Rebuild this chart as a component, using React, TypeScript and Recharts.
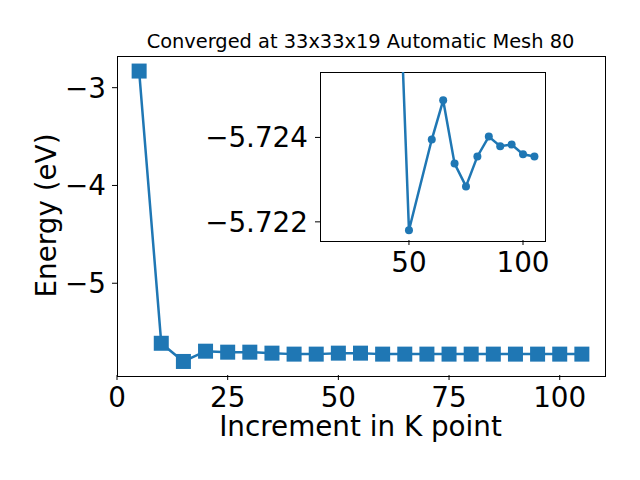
import React from 'react';
import { LineChart, Line, XAxis, YAxis } from 'recharts';

const kPoints = [5, 10, 15, 20, 25, 30, 35, 40, 45, 50, 55, 60, 65, 70, 75, 80, 85, 90, 95, 100, 105];
const energies = [
  -2.83, -5.614, -5.8, -5.695, -5.705, -5.705, -5.715, -5.725, -5.725, -5.715, -5.715,
  -5.725, -5.725, -5.725, -5.725, -5.725, -5.725, -5.725, -5.725, -5.725, -5.725
];

const insetKPoints = [45, 50, 60, 65, 70, 75, 80, 85, 90, 95, 100, 105];
const insetEnergies = [
  -5.729, -5.7218, -5.72395, -5.72488, -5.72338, -5.72284, -5.72355, -5.72402, -5.72379, -5.72383, -5.7236,
  -5.72355
];

const mainXTicks = [0, 25, 50, 75, 100];
const mainYTicks = [-5, -4, -3];
const insetXTicks = [50, 100];
const insetYTicks = [-5.724, -5.722];

const titleText = 'Converged at 33x33x19 Automatic Mesh 80';
const xLabel = 'Increment in K point';
const yLabel = 'Energy (eV)';

const BLUE = '#1f77b4';
const FONT = 'DejaVu Sans';
const BIG = 27.8;

const mainData = kPoints.map((k, i) => ({ k, e: energies[i] }));
const insetData = insetKPoints.map((k, i) => ({ k, e: insetEnergies[i] }));

const minus = (s: string) => s.replace('-', '\u2212');

const renderSquare = (props: any) => {
  const { cx, cy, index } = props;
  return <rect key={`sq-${index}`} x={cx - 7.5} y={cy - 7.5} width={15} height={15} fill={BLUE} />;
};

const tickStyle = { fill: '#000', fontSize: BIG, fontFamily: FONT };

// main plot area: x 117..604, y 56..375
const MAIN = { left: 117, top: 56, width: 487, height: 319 };
// inset plot area: x 320..544, y 72..240
const INSET = { left: 320, top: 72, width: 224, height: 168 };

export default function App() {
  return (
    <div style={{ position: 'absolute', left: 0, top: 0, width: 640, height: 480, background: '#fff' }}>
      <div style={{ position: 'absolute', left: 0, top: 0 }}>
        <LineChart
          width={640}
          height={480}
          data={mainData}
          margin={{ top: MAIN.top, right: 640 - MAIN.left - MAIN.width, left: 0, bottom: 0 }}
        >
          <XAxis
            dataKey="k"
            type="number"
            domain={[0, 110]}
            ticks={mainXTicks}
            height={480 - MAIN.top - MAIN.height}
            tick={tickStyle}
            tickSize={5}
            tickMargin={7}
            stroke="#000"
            axisLine={false}
          />
          <YAxis
            dataKey="e"
            type="number"
            domain={[-5.9385, -2.676]}
            ticks={mainYTicks}
            width={MAIN.left}
            tick={tickStyle}
            tickSize={5}
            tickMargin={6}
            tickFormatter={(v: number) => minus(String(v))}
            stroke="#000"
            axisLine={false}
          />
          <Line
            dataKey="e"
            stroke={BLUE}
            strokeWidth={2.5}
            dot={renderSquare}
            activeDot={false}
            isAnimationActive={false}
          />
        </LineChart>
      </div>
      <div
        style={{
          position: 'absolute',
          left: MAIN.left - 0.5,
          top: MAIN.top - 0.5,
          width: MAIN.width,
          height: MAIN.height,
          border: '1px solid #000',
          pointerEvents: 'none'
        }}
      />
      <div
        style={{
          position: 'absolute',
          left: INSET.left - 0.5,
          top: INSET.top - 0.5,
          width: INSET.width,
          height: INSET.height,
          border: '1px solid #000',
          background: '#fff'
        }}
      />
      <div style={{ position: 'absolute', left: 180, top: 60 }}>
        <LineChart
          width={380}
          height={220}
          data={insetData}
          margin={{ top: INSET.top - 60, right: 380 - (INSET.left - 180) - INSET.width, left: 0, bottom: 0 }}
        >
          <XAxis
            dataKey="k"
            type="number"
            domain={[11, 109.2]}
            ticks={insetXTicks}
            height={220 - (INSET.top - 60) - INSET.height}
            tick={tickStyle}
            tickSize={5}
            tickMargin={7}
            stroke="#000"
            axisLine={false}
            allowDataOverflow
          />
          <YAxis
            dataKey="e"
            type="number"
            domain={[-5.72555, -5.72157]}
            reversed
            allowDataOverflow
            ticks={insetYTicks}
            width={INSET.left - 180}
            tick={tickStyle}
            tickSize={5}
            tickMargin={7}
            tickFormatter={(v: number) => minus(v.toFixed(3))}
            stroke="#000"
            axisLine={false}
          />
          <Line
            dataKey="e"
            stroke={BLUE}
            strokeWidth={2.5}
            dot={{ r: 4, fill: BLUE, stroke: BLUE, strokeWidth: 0 }}
            activeDot={false}
            isAnimationActive={false}
          />
        </LineChart>
      </div>
      <svg width={640} height={480} style={{ position: 'absolute', left: 0, top: 0, pointerEvents: 'none' }}>
        <text x={MAIN.left + MAIN.width / 2} y={48.3} textAnchor="middle" fontFamily={FONT} fontSize={19.4} fill="#000">
          {titleText}
        </text>
        <text x={MAIN.left + MAIN.width / 2} y={436} textAnchor="middle" fontFamily={FONT} fontSize={BIG} fill="#000">
          {xLabel}
        </text>
        <text
          x={56}
          y={MAIN.top + MAIN.height / 2}
          transform={`rotate(-90 56 ${MAIN.top + MAIN.height / 2})`}
          textAnchor="middle"
          fontFamily={FONT}
          fontSize={BIG}
          fill="#000"
        >
          {yLabel}
        </text>
      </svg>
    </div>
  );
}
